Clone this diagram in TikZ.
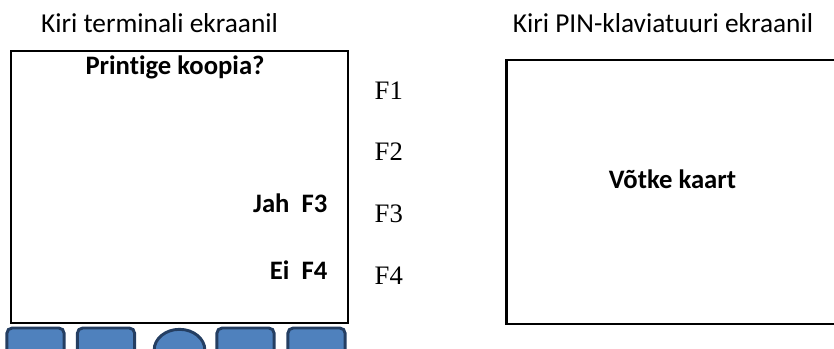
\documentclass[tikz,border=0pt]{standalone}
\usepackage{fontspec}
\setmainfont{Carlito}[Ligatures=NoCommon]
\newfontfamily\keyfont{Liberation Serif}
\usepackage{xcolor}
\usetikzlibrary{positioning}
\usetikzlibrary{shapes.geometric}
\definecolor{btnfill}{RGB}{79,129,189}
\definecolor{btnline}{RGB}{36,62,98}
\tikzstyle{screen} = [draw=black, line width=2pt, fill=white, inner sep=0pt]
\tikzstyle{title} = [font=\fontsize{20.5}{24}\selectfont, anchor=base]
\tikzstyle{msg} = [font=\fontsize{20}{24}\selectfont\bfseries]
\tikzstyle{fkey} = [font=\fontsize{20}{24}\selectfont\keyfont, anchor=base west]
\tikzstyle{btn} = [draw=btnline, fill=btnfill, line width=2.2pt, rounded corners=4pt, minimum width=43pt, minimum height=27pt]

\begin{document}
\begin{tikzpicture}[x=0.75pt,y=-0.75pt]
    \clip (0,0) rectangle (834,349);
    \node (tterm) [title] at (159.5,33) {Kiri terminali ekraanil};
    \node (tpin) [title] at (663,33) {Kiri PIN-klaviatuuri ekraanil};
    \node[screen, minimum width=252.75pt, minimum height=204pt] (term) at (179.5,187) {};
    \node[screen, minimum width=265pt, minimum height=198pt] (pin) at (683,192) {};
    \node (copy) [msg, anchor=base] at (175,75) {Printige koopia?};
    \node (yes) [msg, anchor=base east] at (332,212) {Jah\ \ F3};
    \node (no) [msg, anchor=base east] at (332,279) {Ei\ \ F4};
    \node (card) [msg, anchor=base] at (672.5,188) {Võtke kaart};
    \node (f1) [fkey] at (370,100) {F1};
    \node (f2) [fkey] at (370,161) {F2};
    \node (f3) [fkey] at (370,222) {F3};
    \node (f4) [fkey] at (370,284) {F4};
    \foreach \x/\n in {35.5/b1,106/b2,245.5/b4,316.5/b5}
        \node[btn] (\n) at (\x,346) {};
    \node[btn, shape=ellipse, rounded corners=0pt, minimum width=38pt, minimum height=31pt] (b3) at (179.5,350) {};
\end{tikzpicture}
\end{document}
